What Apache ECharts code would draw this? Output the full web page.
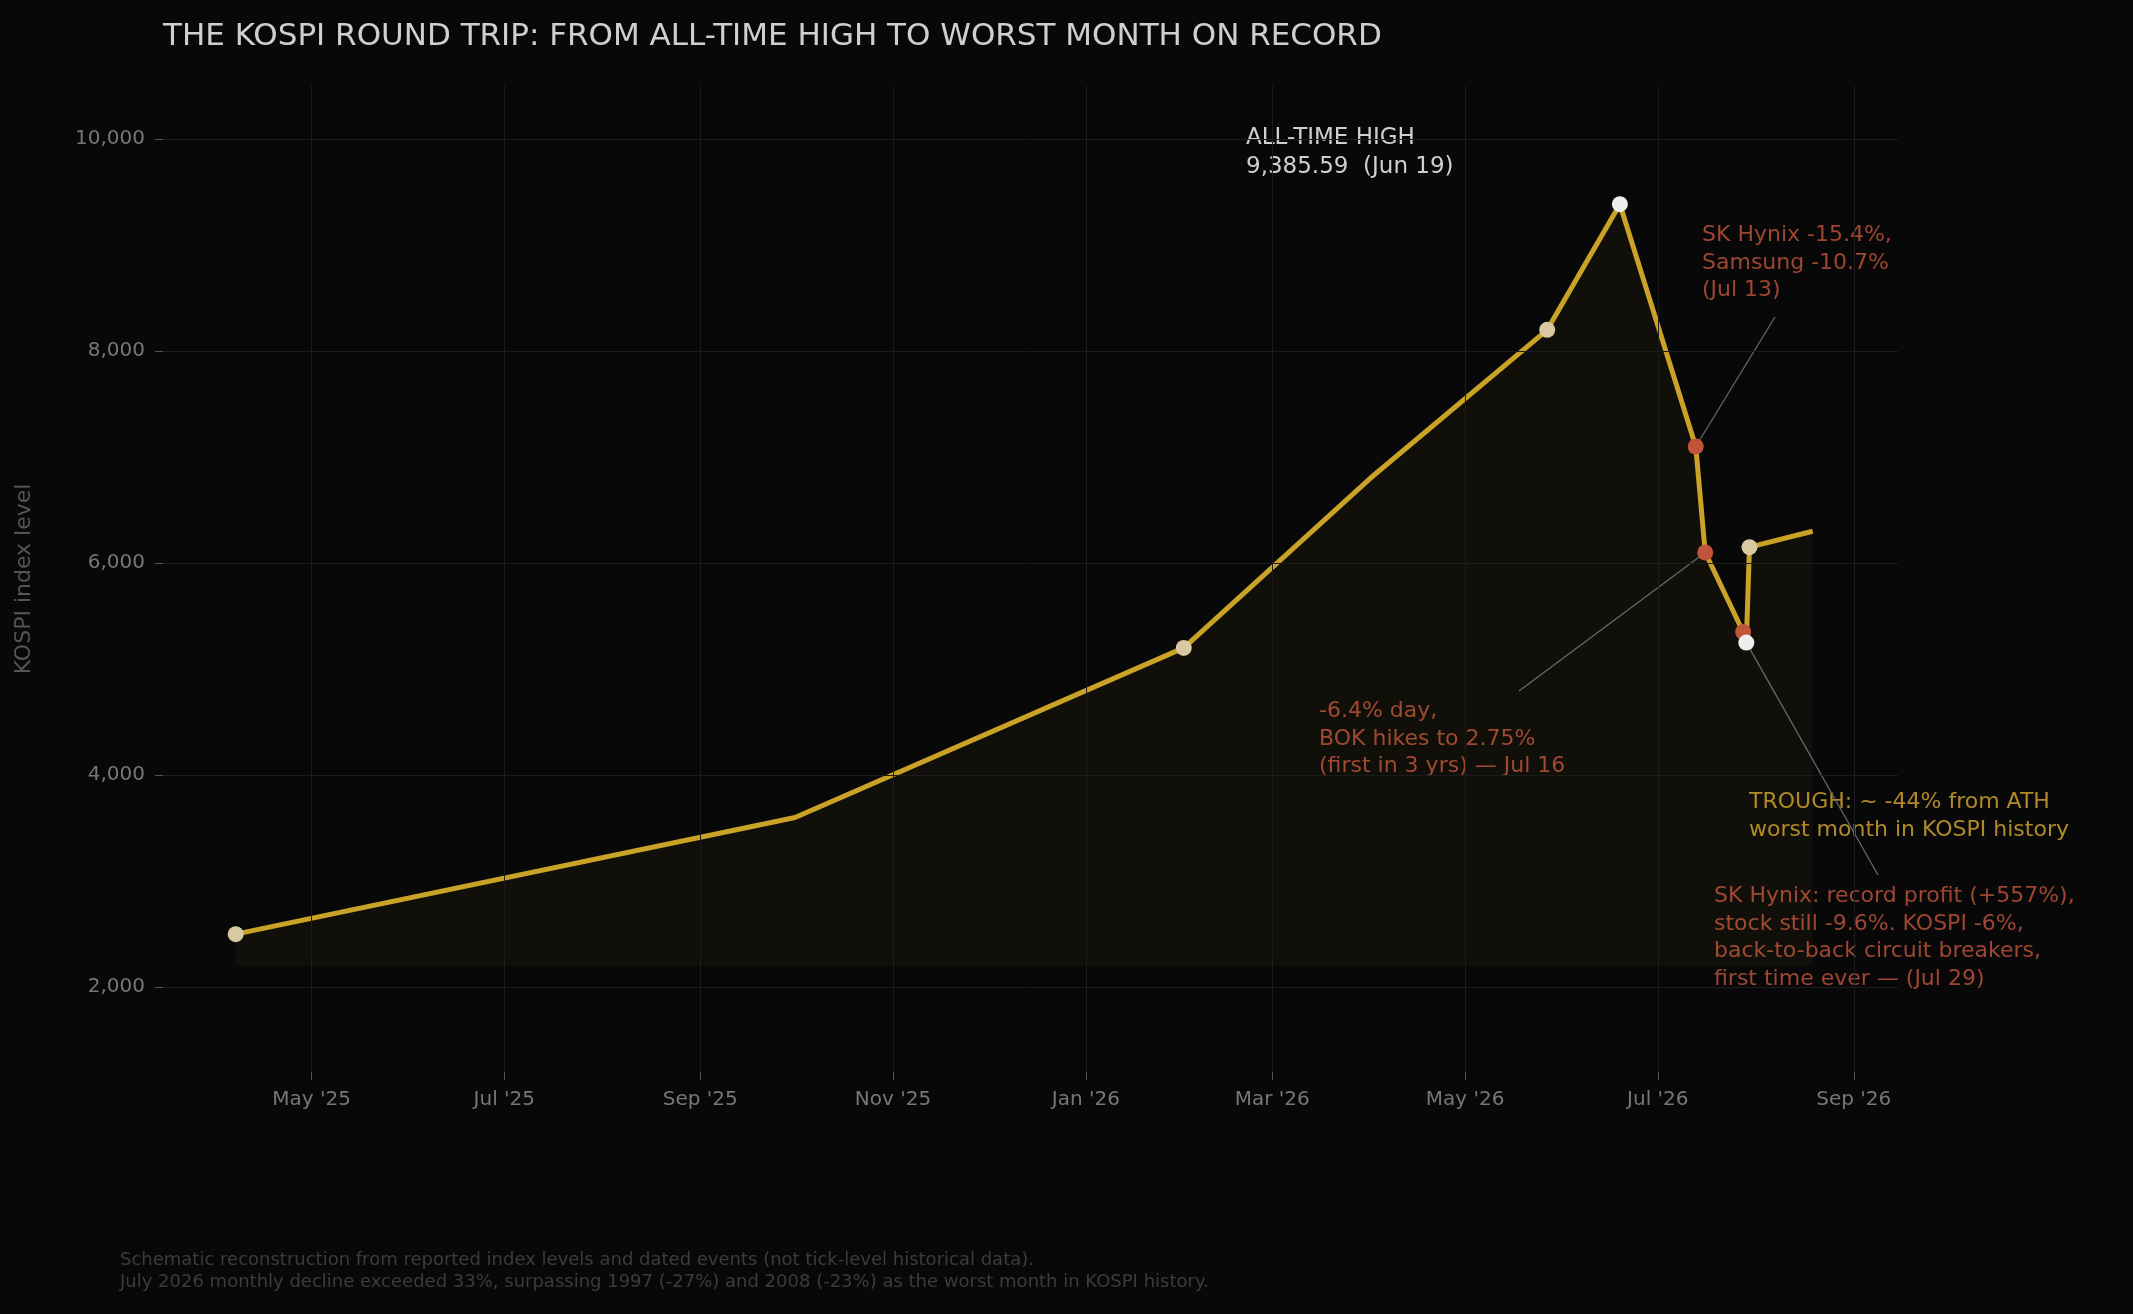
<!DOCTYPE html>
<html><head><meta charset="utf-8">
<script src="https://cdn.jsdelivr.net/npm/echarts@6/dist/echarts.min.js"></script>
<style>html,body{margin:0;background:#080808}#c{width:2133px;height:1314px}</style>
</head><body><div id="c"></div>
<script>
const dates = ['2025-04-07','2025-10-01','2026-02-01','2026-04-01','2026-05-27','2026-06-19','2026-07-13','2026-07-16','2026-07-28','2026-07-29','2026-07-30','2026-08-19'];
const values = [2500,3600,5200,6800,8200,9385.59,7100,6100,5350,5250,6150,6300];
const markerKind = ['beige','none','beige','none','beige','white','red','red','red','white','beige','none'];
const xTicks = ['2025-05-01','2025-07-01','2025-09-01','2025-11-01','2026-01-01','2026-03-01','2026-05-01','2026-07-01','2026-09-01'];
const yTicks = [2000,4000,6000,8000,10000];
const MON=['Jan','Feb','Mar','Apr','May','Jun','Jul','Aug','Sep','Oct','Nov','Dec'];
const colors={beige:'#d9c9a3',white:'#eeeeee',red:'#c0553a'};
const F='DejaVu Sans';
const chart=echarts.init(document.getElementById('c'));
const t=s=>new Date(s+'T00:00:00Z').getTime();
const data=dates.map((d,i)=>({value:[t(d),values[i]],symbolSize:markerKind[i]==='none'?0:16,itemStyle:{color:colors[markerKind[i]]||'#c9a227'}}));
chart.setOption({
  backgroundColor:'#080808',animation:false,
  textStyle:{fontFamily:F},
  title:{text:'THE KOSPI ROUND TRIP: FROM ALL-TIME HIGH TO WORST MONTH ON RECORD',left:158,top:16,textStyle:{color:'#cfcfcf',fontSize:31,fontWeight:'normal',fontFamily:F}},
  grid:{left:163,right:235,top:86,bottom:242},
  xAxis:{type:'value',min:t('2025-03-15'),max:t('2026-09-15'),
    axisLine:{show:false},splitLine:{show:false},
    axisTick:{show:true,customValues:xTicks.map(t),length:8,lineStyle:{color:'#555'}},
    axisLabel:{customValues:xTicks.map(t),color:'#777',fontSize:20,margin:18,
      formatter:v=>{const d=new Date(v);return MON[d.getUTCMonth()]+" '"+String(d.getUTCFullYear()).slice(2);}}},
  yAxis:{type:'value',min:1200,max:10500,name:'KOSPI index level',nameLocation:'middle',nameGap:128,
    nameTextStyle:{color:'#555',fontSize:22},
    axisLine:{show:false},splitLine:{show:false},
    axisTick:{show:true,customValues:yTicks,length:8,lineStyle:{color:'#555'}},
    axisLabel:{customValues:yTicks,color:'#777',fontSize:20,margin:18}},
  series:[{type:'line',data:data,symbol:'circle',lineStyle:{color:'#c9a227',width:5},
    areaStyle:{origin:2200,color:'rgba(200,160,40,0.07)'},
    markLine:{silent:true,symbol:'none',label:{show:false},lineStyle:{color:'#1c1c1c',width:1,type:'solid'},
      data:yTicks.map(v=>({yAxis:v})).concat(xTicks.map(d=>({xAxis:t(d)})))},
    z:3}]
});
const p=i=>chart.convertToPixel({xAxisIndex:0,yAxisIndex:0},[t(dates[i]),values[i]]);
const txt=(x,y,s,c,fs)=>({type:'text',x:x,y:y,style:{text:s,fill:c,font:fs+'px "'+F+'"',lineHeight:fs*1.25,textVerticalAlign:'top'}});
const line=(a,b)=>({type:'line',shape:{x1:a[0],y1:a[1],x2:b[0],y2:b[1]},style:{stroke:'#666',lineWidth:1.3},z:1});
chart.setOption({graphic:[
  line(p(6),[1775,317]),line(p(7),[1519,691]),line(p(9),[1878,875]),
  txt(1246,124,'ALL-TIME HIGH\n9,385.59  (Jun 19)','#d0d0d0',23),
  txt(1702,222,'SK Hynix -15.4%,\nSamsung -10.7%\n(Jul 13)','#9e4632',22),
  txt(1319,698,'-6.4% day,\nBOK hikes to 2.75%\n(first in 3 yrs) — Jul 16','#9e4632',22),
  txt(1749,789,'TROUGH: ~ -44% from ATH\nworst month in KOSPI history','#b08a28',22),
  txt(1714,883,'SK Hynix: record profit (+557%),\nstock still -9.6%. KOSPI -6%,\nback-to-back circuit breakers,\nfirst time ever — (Jul 29)','#9e4632',22),
  txt(120,1249,'Schematic reconstruction from reported index levels and dated events (not tick-level historical data).\nJuly 2026 monthly decline exceeded 33%, surpassing 1997 (-27%) and 2008 (-23%) as the worst month in KOSPI history.','#3c3c3c',18)
]});
</script></body></html>
